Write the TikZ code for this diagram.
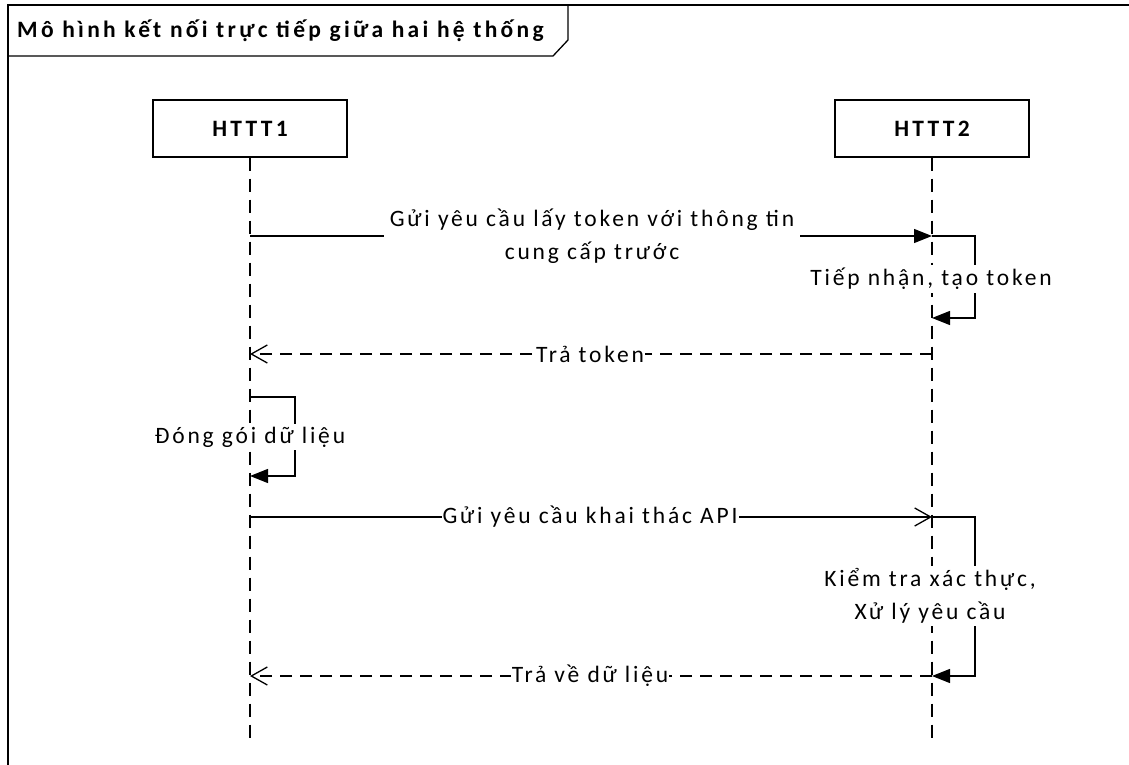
\documentclass[tikz,border=0pt]{standalone}
\usepackage{fontspec}
\setmainfont[LetterSpace=12,BoldFeatures={LetterSpace=14}]{Carlito}
\usetikzlibrary{arrows.meta}
\begin{document}
\begin{tikzpicture}[x=1pt,y=-1pt,
  every node/.style={font=\fontsize{23.5}{32.5}\selectfont},
  lifebox/.style={draw,line width=1.3pt,minimum width=194pt,minimum height=57pt,font=\fontsize{23.5}{26}\selectfont\bfseries},
  lifeline/.style={line width=1.3pt,dash pattern=on 13pt off 8pt},
  msg/.style={line width=1.3pt},
  reply/.style={line width=1.3pt,dash pattern=on 12pt off 8pt},
  filledtip/.style={-{Triangle[length=18pt,width=14pt]}},
  opentip/.style={-{Straight Barb[length=16pt,width=18pt,line width=1.3pt]}},
  lbl/.style={fill=white,inner sep=3pt,align=center}]
\useasboundingbox (0,0) rectangle (1129,765);
% frame
\draw[line width=1.8pt] (8,800) -- (8,5) -- (1140,5);
\draw[line width=1.3pt] (8,56) -- (553,56) -- (568,40) -- (568,5);
\node[anchor=west,inner sep=0pt,font=\fontsize{23.5}{26}\selectfont\bfseries] (title) at (17,31) {Mô hình kết nối trực tiếp giữa hai hệ thống};
% lifelines
\node[lifebox] (h1) at (250,128.5) {HTTT1};
\node[lifebox] (h2) at (932,128.5) {HTTT2};
\coordinate (e1) at (250,742);
\coordinate (e2) at (932,742);
\draw[lifeline] (h1.south) -- (e1);
\draw[lifeline] (h2.south) -- (e2);
% message 1
\coordinate (m1a) at (250,236);
\coordinate (m1b) at (932,236);
\draw[msg,filledtip] (m1a) -- (m1b);
\node[lbl,inner xsep=6pt] (l1) at (592,236) {Gửi yêu cầu lấy token với thông tin\\cung cấp trước};
% self on HTTT2
\coordinate (s1a) at (975,236);
\coordinate (s1b) at (975,318);
\coordinate (s1c) at (932,318);
\draw[msg,filledtip] (m1b) -- (s1a) -- (s1b) -- (s1c);
\node[lbl] (l2) at (931,279) {Tiếp nhận, tạo token};
% reply 1
\coordinate (r1a) at (932,354);
\coordinate (r1b) at (250,354);
\draw[reply,opentip] (r1a) -- (r1b);
\node[lbl,inner sep=1pt] (l3) at (590,354) {Trả token};
% self on HTTT1
\coordinate (s2a) at (250,397);
\coordinate (s2b) at (295,397);
\coordinate (s2c) at (295,476);
\coordinate (s2d) at (250,476);
\draw[msg,filledtip] (s2a) -- (s2b) -- (s2c) -- (s2d);
\node[lbl] (l4) at (250,437) {Đóng gói dữ liệu};
% message 2
\coordinate (m2a) at (250,517);
\coordinate (m2b) at (932,517);
\draw[msg,opentip] (m2a) -- (m2b);
\node[lbl,inner sep=1pt] (l5) at (590,517) {Gửi yêu cầu khai thác API};
% self on HTTT2
\coordinate (s3a) at (975,517);
\coordinate (s3b) at (975,676);
\coordinate (s3c) at (932,676);
\draw[msg,filledtip] (m2b) -- (s3a) -- (s3b) -- (s3c);
\node[lbl] (l6) at (930,596) {Kiểm tra xác thực,\\Xử lý yêu cầu};
% reply 2
\coordinate (r2a) at (932,676);
\coordinate (r2b) at (250,676);
\draw[reply,opentip] (r2a) -- (r2b);
\node[lbl,inner sep=1pt] (l7) at (590,676) {Trả về dữ liệu};
\end{tikzpicture}
\end{document}
